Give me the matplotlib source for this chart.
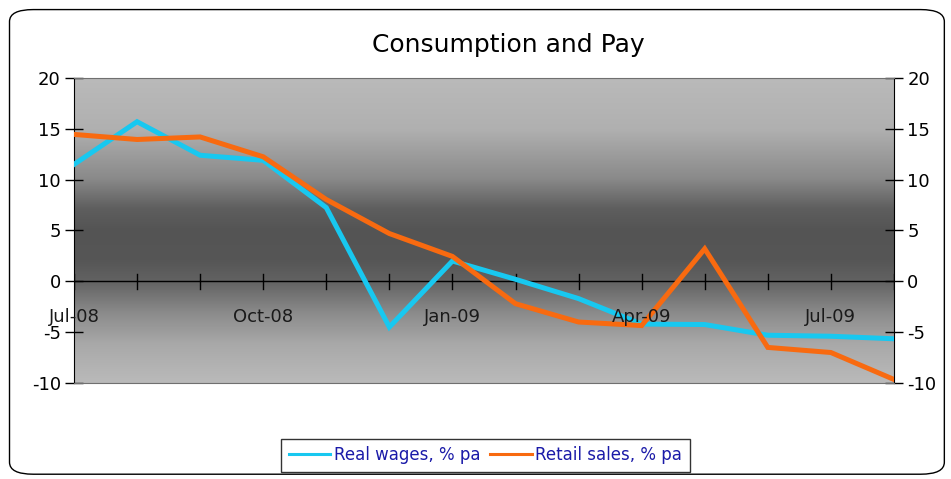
import numpy as np
import matplotlib
matplotlib.use("Agg")
import matplotlib.pyplot as plt
from matplotlib.patches import FancyBboxPatch
from matplotlib.colors import LinearSegmentedColormap

plt.rcParams["axes.unicode_minus"] = False

months = ["Jul-08", "Aug-08", "Sep-08", "Oct-08", "Nov-08", "Dec-08", "Jan-09",
          "Feb-09", "Mar-09", "Apr-09", "May-09", "Jun-09", "Jul-09", "Aug-09"]
real_wages = [11.5, 15.7, 12.4, 11.9, 7.25, -4.5, 2.0, 0.2, -1.7, -4.2, -4.25, -5.3, -5.4, -5.65]
retail_sales = [14.45, 13.95, 14.2, 12.25, 8.05, 4.7, 2.45, -2.2, -4.0, -4.35, 3.2, -6.5, -7.0, -9.65]
yticks = [-10, -5, 0, 5, 10, 15, 20]

fig = plt.figure(figsize=(9.51, 4.79), dpi=100)
fig.patch.set_facecolor("white")

# rounded figure border
border = FancyBboxPatch((0.010, 0.010), 0.983, 0.970, boxstyle="round,pad=0,rounding_size=0.025",
                        transform=fig.transFigure, fill=False, edgecolor="black", linewidth=1.0)
fig.patches.append(border)

ax = fig.add_axes([0.0778, 0.2004, 0.8622, 0.6368])
x = np.arange(len(months))
ax.set_xlim(0, len(months) - 1)
ax.set_ylim(-10, 20)

# gradient background (stops from top (20) to bottom (-10))
stops = [(0.0, "#bababa"), (0.17, "#b0b0b0"), (0.33, "#8a8a8a"), (0.43, "#5e5e5e"),
         (0.50, "#545454"), (0.60, "#565656"), (0.667, "#626262"), (0.77, "#8a8a8a"),
         (0.87, "#a8a8a8"), (1.0, "#bababa")]
cmap = LinearSegmentedColormap.from_list("g", stops)
grad = np.linspace(0, 1, 512).reshape(-1, 1)
ax.imshow(grad, cmap=cmap, aspect="auto", extent=[0, len(months) - 1, -10, 20],
          origin="upper", zorder=0, interpolation="bilinear")

ax.plot(x, real_wages, color="#18c8f0", lw=3.6, label="Real wages, % pa", zorder=3,
        solid_joinstyle="miter")
ax.plot(x, retail_sales, color="#f86a10", lw=3.6, label="Retail sales, % pa", zorder=4,
        solid_joinstyle="miter")

# zero line with month ticks
ax.axhline(0, color="black", lw=1.0, zorder=2)
for xi in x:
    ax.plot([xi, xi], [-0.75, 0.7], color="black", lw=1.0, zorder=2)
for xi in range(0, len(months), 3):
    ax.text(xi, -3.5, months[xi], ha="center", va="center", fontsize=13, color="#1a1a1a", zorder=5)

ax.set_xticks([])
ax.set_yticks(yticks)
ax.tick_params(axis="y", direction="inout", length=13, width=1, labelsize=13, pad=3,
               labelleft=True, labelright=True, left=True, right=True)
for s in ["left", "right"]:
    ax.spines[s].set_color("black")
for s in ["top", "bottom"]:
    ax.spines[s].set_color("#707070")

fig.text(0.534, 0.906, "Consumption and Pay", ha="center", va="center", fontsize=18)

leg = fig.legend(loc="center", bbox_to_anchor=(0.5105, 0.0495), ncol=2, frameon=True, fancybox=False,
                 edgecolor="black", fontsize=12, handlelength=2.5, handletextpad=0.2,
                 columnspacing=0.6, borderpad=0.45)
leg.get_frame().set_linewidth(1.0)
for t in leg.get_texts():
    t.set_color("#1a1aa8")
for h in leg.get_lines():
    h.set_linewidth(2.2)

fig.savefig("out.png", dpi=100)
